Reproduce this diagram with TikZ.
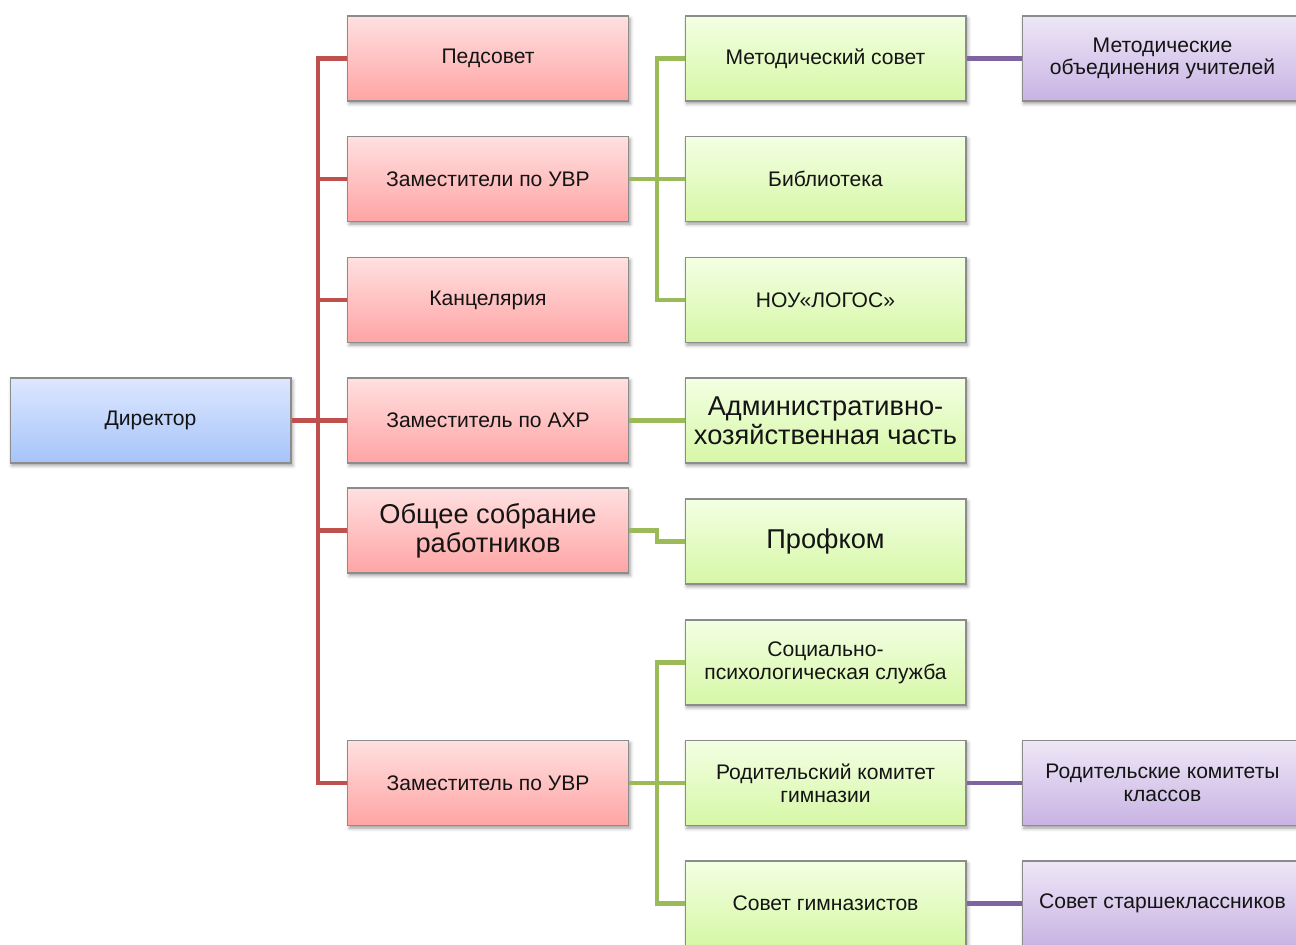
\documentclass[tikz,border=0pt]{standalone}
\usepackage{fontspec}
\setmainfont{Liberation Sans}
\usepackage{tikz}
\usetikzlibrary{positioning, calc, shadows.blur}
\definecolor{redline}{HTML}{C0504D}
\definecolor{greenline}{HTML}{9BBB59}
\definecolor{purpleline}{HTML}{8064A2}
\definecolor{boxedge}{HTML}{8C8C8C}
\definecolor{textdark}{HTML}{141414}
\definecolor{bluetop}{HTML}{DDE7FE}
\definecolor{bluebot}{HTML}{A6C4FA}
\definecolor{redtop}{HTML}{FFE0E0}
\definecolor{redbot}{HTML}{FFA4A4}
\definecolor{greentop}{HTML}{F3FFE3}
\definecolor{greenbot}{HTML}{D6F7A6}
\definecolor{purpletop}{HTML}{EEE7F7}
\definecolor{purplebot}{HTML}{C8B3E3}

\begin{document}
\begin{tikzpicture}[x=0.02cm, y=-0.02cm,
    box/.style={rectangle, draw=boxedge, line width=0.6pt, minimum width=5.62cm,
      minimum height=1.7cm, align=center, text=textdark, inner sep=1pt,
      font=\fontsize{12}{13}\selectfont,
      blur shadow={shadow xshift=1pt, shadow yshift=-1.5pt, shadow blur radius=2pt, shadow opacity=40}},
    bigtext/.style={font=\fontsize{15.5}{16.5}\selectfont},
    bluebox/.style={box, top color=bluetop, bottom color=bluebot},
    redbox/.style={box, top color=redtop, bottom color=redbot},
    greenbox/.style={box, top color=greentop, bottom color=greenbot},
    purplebox/.style={box, top color=purpletop, bottom color=purplebot},
    redwire/.style={draw=redline, line width=2.3pt},
    greenwire/.style={draw=greenline, line width=2.3pt},
    purplewire/.style={draw=purpleline, line width=2.3pt}]
  \useasboundingbox (0,0) rectangle (1296,945);

  % Director
  \node[bluebox] (dir) at (150.5,420.5) {Директор};

  % Red column
  \node[redbox] (ped)   at (488,58.5)  {Педсовет};
  \node[redbox] (zuvr)  at (488,179)   {Заместители по УВР};
  \node[redbox] (kanc)  at (488,300)   {Канцелярия};
  \node[redbox] (zahr)  at (488,420.5) {Заместитель по АХР};
  \node[redbox, bigtext] (obsh) at (488,530.5) {Общее собрание\\работников};
  \node[redbox] (zuvrb) at (488,783)   {Заместитель по УВР};

  % Green column
  \node[greenbox] (metsov) at (825.5,58.5)  {Методический совет};
  \node[greenbox] (bibl)   at (825.5,179)   {Библиотека};
  \node[greenbox] (logos)  at (825.5,300)   {НОУ«ЛОГОС»};
  \node[greenbox, bigtext] (ahch) at (825.5,420.5) {Административно-\\хозяйственная часть};
  \node[greenbox, bigtext] (prof) at (825.5,541.5) {Профком};
  \node[greenbox] (soc)    at (825.5,662.5) {Социально-\\психологическая служба};
  \node[greenbox] (rodkom) at (825.5,783)   {Родительский комитет\\гимназии};
  \node[greenbox] (sovgim) at (825.5,903.5) {Совет гимназистов};

  % Purple column
  \node[purplebox] (metob)   at (1162.5,58.5)  {Методические\\объединения учителей};
  \node[purplebox] (rodkl)   at (1162.5,783)   {Родительские комитеты\\классов};
  \node[purplebox] (starsh)  at (1162.5,903.5) {Совет старшеклассников};

  % Red trunk
  \coordinate (rtop) at (318,58.5);
  \coordinate (rbot) at (318,783);
  \draw[redwire] (ped.west) -- (rtop) -- (rbot) -- (zuvrb.west);
  \foreach \b in {zuvr, kanc, zahr, obsh}
    \draw[redwire] (\b.west) -- (\b.west -| rtop);
  \draw[redwire] (dir.east) -- (dir.east -| rtop);

  % Green links
  \coordinate (gtop) at (657,58.5);
  \draw[greenwire] (metsov.west) -- (gtop) -- (logos.west -| gtop) -- (logos.west);
  \draw[greenwire] (zuvr.east) -- (bibl.west);
  \draw[greenwire] (zahr.east) -- (ahch.west);
  \draw[greenwire] (obsh.east) -- ++(28,0) |- (prof.west);
  \coordinate (gbot) at (657,662.5);
  \draw[greenwire] (soc.west) -- (gbot) -- (sovgim.west -| gbot) -- (sovgim.west);
  \draw[greenwire] (zuvrb.east) -- (rodkom.west);

  % Purple links
  \draw[purplewire] (metsov.east) -- (metob.west);
  \draw[purplewire] (rodkom.east) -- (rodkl.west);
  \draw[purplewire] (sovgim.east) -- (starsh.west);
\end{tikzpicture}
\end{document}
